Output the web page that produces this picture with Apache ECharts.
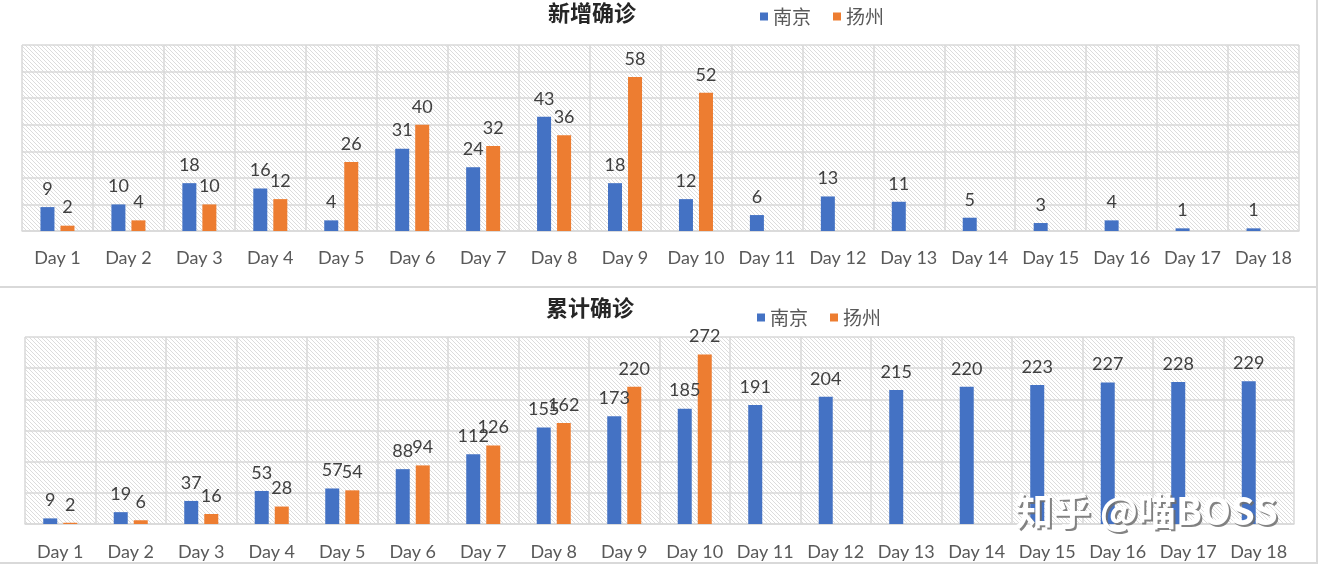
<!DOCTYPE html>
<html><head><meta charset="utf-8">
<script src="https://cdn.jsdelivr.net/npm/echarts@6/dist/echarts.min.js"></script>
<style>html,body{margin:0;padding:0;background:#fff}#c{width:1318px;height:570px}</style>
</head><body><div id="c"></div>
<script>
const categories = ['Day 1','Day 2','Day 3','Day 4','Day 5','Day 6','Day 7','Day 8','Day 9','Day 10','Day 11','Day 12','Day 13','Day 14','Day 15','Day 16','Day 17','Day 18'];
const seriesNames = ['南京', '扬州'];
const newNanjing = [9,10,18,16,4,31,24,43,18,12,6,13,11,5,3,4,1,1];
const newYangzhou = [2,4,10,12,26,40,32,36,58,52,null,null,null,null,null,null,null,null];
const totalNanjing = [9,19,37,53,57,88,112,155,173,185,191,204,215,220,223,227,228,229];
const totalYangzhou = [2,6,16,28,54,94,126,162,220,272,null,null,null,null,null,null,null,null];
const titles = ['新增确诊', '累计确诊'];
const watermark = '知乎 @喵BOSS';

const pc = document.createElement('canvas');
pc.width = 4; pc.height = 4;
const g = pc.getContext('2d');
g.fillStyle = '#ffffff'; g.fillRect(0,0,4,4);
g.strokeStyle = '#dcdcdc'; g.lineWidth = 1;
for (const k of [-4,0,4]) { g.beginPath(); g.moveTo(k,0); g.lineTo(k+4,4); g.stroke(); }
const pattern = {image: pc, repeat: 'repeat'};

const BLUE = '#4472C4', ORANGE = '#ED7D31';
const gridLine = {show: true, lineStyle: {color: '#d9d9d9', width: 1.5}};
const font = 'Lato';

function xAx(i, margin) {
  return {type: 'category', gridIndex: i, data: categories, boundaryGap: true,
    axisTick: {show: false}, axisLine: {show: true, lineStyle: {color: '#d9d9d9', width: 1.5}},
    splitLine: gridLine,
    axisLabel: {interval: 0, fontSize: 18, color: '#595959', fontFamily: font, margin: margin}};
}
function yAx(i, max, interval) {
  return {type: 'value', gridIndex: i, min: 0, max: max, interval: interval,
    axisLabel: {show: false}, axisLine: {show: false}, axisTick: {show: false}, splitLine: gridLine};
}
function bar(name, data, color, i) {
  return {type: 'bar', name: name, data: data, xAxisIndex: i, yAxisIndex: i,
    barWidth: 14, barGap: '43%', itemStyle: {color: color},
    label: {show: true, position: 'top', distance: 9, fontSize: 18, color: '#404040', fontFamily: font}};
}
const legendBase = {itemWidth: 8, itemHeight: 8, itemGap: 22, icon: 'rect', padding: 0,
  data: seriesNames, textStyle: {fontSize: 19, color: '#595959', fontFamily: 'Noto Sans CJK SC'}};

const wmFont = 'bold 38px "Noto Sans CJK SC"';
const chart = echarts.init(document.getElementById('c'), null, {renderer: 'canvas'});
chart.setOption({
  animation: false,
  backgroundColor: '#fff',
  title: [
    {text: titles[0], left: 548, top: 2, padding: 0, textStyle: {fontSize: 22, fontWeight: 'bold', color: '#262626', fontFamily: 'Noto Sans CJK SC'}},
    {text: titles[1], left: 546, top: 297, padding: 0, textStyle: {fontSize: 22, fontWeight: 'bold', color: '#262626', fontFamily: 'Noto Sans CJK SC'}}
  ],
  legend: [
    Object.assign({left: 760, top: 7}, legendBase),
    Object.assign({left: 757, top: 308}, legendBase)
  ],
  grid: [
    {left: 22, top: 45, width: 1277, height: 186, show: true, backgroundColor: pattern, borderWidth: 0},
    {left: 25, top: 337, width: 1269, height: 187, show: true, backgroundColor: pattern, borderWidth: 0}
  ],
  xAxis: [xAx(0, 18), xAx(1, 19)],
  yAxis: [yAx(0, 70, 10), yAx(1, 300, 50)],
  series: [
    bar(seriesNames[0], newNanjing, BLUE, 0),
    bar(seriesNames[1], newYangzhou, ORANGE, 0),
    bar(seriesNames[0], totalNanjing, BLUE, 1),
    bar(seriesNames[1], totalYangzhou, ORANGE, 1)
  ],
  graphic: [
    {type: 'line', shape: {x1: 0, y1: 287, x2: 1318, y2: 287}, style: {stroke: '#d9d9d9', lineWidth: 2}, silent: true},
    {type: 'line', shape: {x1: 0, y1: 563, x2: 1318, y2: 563}, style: {stroke: '#d9d9d9', lineWidth: 2}, silent: true},
    {type: 'line', shape: {x1: 1317, y1: 0, x2: 1317, y2: 563}, style: {stroke: '#d9d9d9', lineWidth: 2}, silent: true},
    {type: 'text', left: 1017, top: 494, z: 99, silent: true,
      style: {text: watermark, fill: 'rgba(110,110,110,0.85)', font: wmFont}},
    {type: 'text', left: 1015, top: 492, z: 100, silent: true,
      style: {text: watermark, fill: '#ffffff', font: wmFont}}
  ]
});
</script></body></html>
